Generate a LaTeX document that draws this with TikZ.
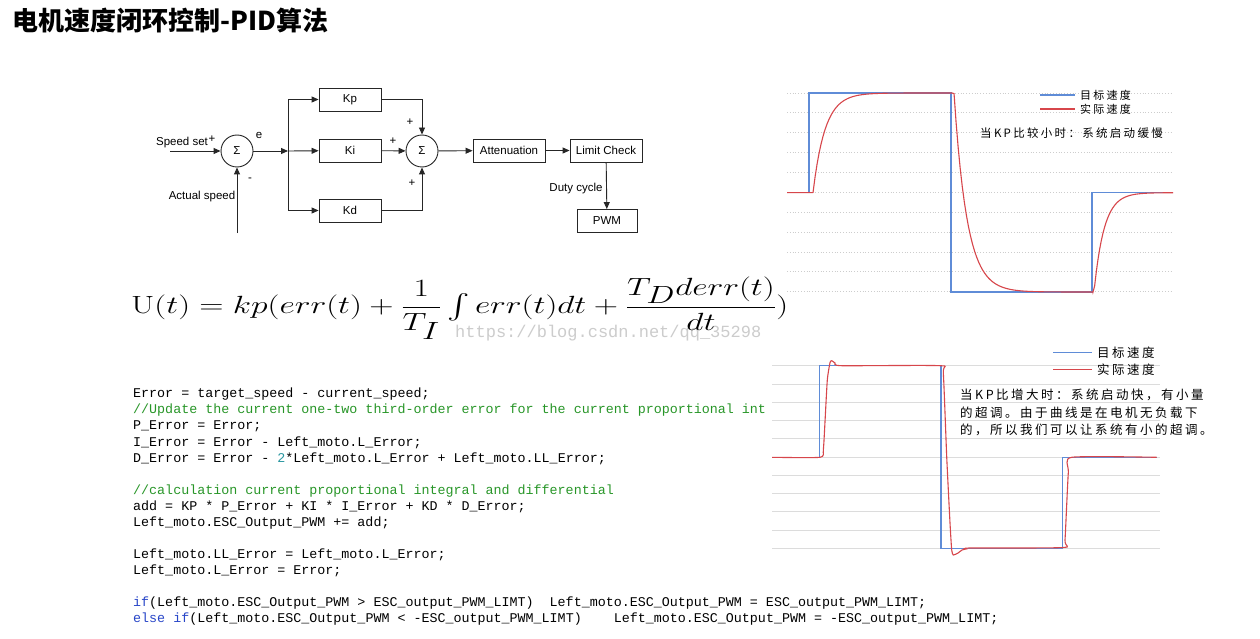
\documentclass[tikz,border=0pt]{standalone}
\usepackage{amsmath}
\usepackage{graphicx}
\usepackage[no-math]{fontspec}
\setmainfont{Liberation Sans}
\setmonofont{Liberation Mono}
\newfontfamily\cjk{Noto Sans CJK SC}
\newfontfamily\cjkls{Noto Sans CJK SC}[LetterSpace=20]
\usetikzlibrary{arrows.meta}
\definecolor{tgtblue}{RGB}{95,140,215}
\definecolor{actred}{RGB}{215,70,75}
\definecolor{gridgray}{RGB}{205,205,205}
\definecolor{cmtgreen}{RGB}{40,150,40}
\definecolor{numcyan}{RGB}{40,150,160}
\definecolor{kwblue}{RGB}{40,70,200}
\tikzset{
  blk/.style={draw=black!85,line width=0.9pt,minimum width=62pt,minimum height=23pt,inner sep=0pt,font=\fontsize{11.5}{13}\selectfont},
  sumc/.style={draw=black!85,line width=0.9pt,circle,minimum size=32pt,inner sep=0pt,font=\fontsize{11.5}{13}\selectfont},
  lbl/.style={inner sep=0pt,font=\fontsize{11.5}{13}\selectfont},
  gridA/.style={gridgray,line width=0.8pt,dotted},
  gridB/.style={gridgray!70,line width=0.6pt},
  tgt/.style={tgtblue,line width=1.1pt},
  act/.style={actred,line width=1.1pt},
  code/.style={inner sep=0pt,align=left,font=\ttfamily\fontsize{13.35}{16.05}\selectfont}
}
\begin{document}
\begin{tikzpicture}[x=1pt,y=-1pt,>={Triangle[length=7pt,width=6pt]}]
\useasboundingbox[fill=white] (0,0) rectangle (1260,639);
% title
\node[anchor=west,inner sep=0pt] (title) at (12,21) {\cjk\bfseries\fontsize{26}{30}\selectfont 电机速度闭环控制-PID算法};

% PID block diagram
\node[sumc] (s1) at (237,151) {Σ};
\node[blk] (kp) at (350,99.5) {Kp};
\node[blk] (ki) at (350,150.5) {Ki};
\node[blk] (kd) at (350,210.5) {Kd};
\node[sumc] (s2) at (422,151) {Σ};
\node[blk,minimum width=72pt] (att) at (509,150.5) {Attenuation};
\node[blk,minimum width=72pt] (lim) at (606,150.5) {Limit Check};
\node[blk,minimum width=60pt] (pwm) at (607,221) {PWM};
\coordinate (in) at (170,151);
\coordinate (fb) at (237,233);
\coordinate (br) at (288,151);
\draw[black!85,line width=0.9pt,->] (in) -- (s1);
\draw[black!85,line width=0.9pt,->] (fb) -- (s1);
\draw[black!85,line width=0.9pt,->] (s1) -- (br);
\draw[black!85,line width=0.9pt,->] (br) -- (ki);
\draw[black!85,line width=0.9pt,->] (br) |- (kp);
\draw[black!85,line width=0.9pt,->] (br) |- (kd);
\draw[black!85,line width=0.9pt,->] (kp) -| (s2);
\draw[black!85,line width=0.9pt,->] (kd) -| (s2);
\draw[black!85,line width=0.9pt,->] (ki) -- (s2);
\draw[black!85,line width=0.9pt,->] (s2) -- (att);
\draw[black!85,line width=0.9pt,->] (att) -- (lim);
\draw[black!85,line width=0.9pt,->] (lim) -- (pwm);
\node[lbl] (setl) at (182,143) {Speed set};
\node[lbl] (setp) at (212,139) {+};
\node[lbl] (el) at (259,135) {e};
\node[lbl] (ml) at (250,180) {-};
\node[lbl] (actl) at (202,197) {Actual speed};
\node[lbl] (p1) at (410,122) {+};
\node[lbl] (p2) at (393,141) {+};
\node[lbl] (p3) at (412,183) {+};
\node[lbl] (duty) at (576,189) {Duty cycle};

% formula with watermark
\node[anchor=west,inner sep=0pt,gray!40,font=\ttfamily\fontsize{17}{20}\selectfont] (mark) at (455,333) {https://blog.csdn.net/qq\_35298};
\node[anchor=west,inner sep=0pt] (eq) at (131,308) {\fontsize{35}{40}\selectfont\scalebox{1.35}[1]{%
  $\mathrm{U}(t) = kp(err(t) + \dfrac{1}{T_I}\int err(t)dt + \dfrac{T_D derr(t)}{dt})$}};

% C code
\node[code,anchor=north west] (src) at (133,388) {%
Error = target\_speed - current\_speed;\\
\textcolor{cmtgreen}{//Update the current one-two third-order error for the current proportional int}\\
P\_Error = Error;\\
I\_Error = Error - Left\_moto.L\_Error;\\
D\_Error = Error - \textcolor{numcyan}{2}*Left\_moto.L\_Error + Left\_moto.LL\_Error;\\[16.05pt]
\textcolor{cmtgreen}{//calculation current proportional integral and differential}\\
add = KP * P\_Error + KI * I\_Error + KD * D\_Error;\\
Left\_moto.ESC\_Output\_PWM += add;\\[16.05pt]
Left\_moto.LL\_Error = Left\_moto.L\_Error;\\
Left\_moto.L\_Error = Error;\\[16.05pt]
\textcolor{kwblue}{if}(Left\_moto.ESC\_Output\_PWM > ESC\_output\_PWM\_LIMT)\ \ Left\_moto.ESC\_Output\_PWM = ESC\_output\_PWM\_LIMT;\\
\textcolor{kwblue}{else if}(Left\_moto.ESC\_Output\_PWM < -ESC\_output\_PWM\_LIMT)\ \ \ \ Left\_moto.ESC\_Output\_PWM = -ESC\_output\_PWM\_LIMT;};

% response with small KP
\foreach \g in {0,...,10}
  \draw[gridA] (787,{93+19.87*\g}) -- (1173,{93+19.87*\g});
\draw[tgt] (787,192.7) -- (809,192.7) -- (809,93) -- (951,93) -- (951,292) -- (1092,292) -- (1092,192.7) -- (1173,192.7);
\draw[act] (787,192.7) -- (813,192.7)
  plot[domain=813:952,samples=70] (\x,{93+99.7*exp(-(\x-813)/12)})
  -- plot[domain=952:1093,samples=70] (\x,{93+199*(1-exp(-max(\x-954,0)/13))})
  -- plot[domain=1093:1173,samples=50] (\x,{292-99.3*(1-exp(-max(\x-1094,0)/10))});
\draw[tgt] (1040,95) -- (1075,95);
\draw[act] (1040,109) -- (1075,109);
\node[anchor=west,inner sep=0pt,font=\cjkls\fontsize{11}{13}\selectfont] (lgA1) at (1080,95) {目标速度};
\node[anchor=west,inner sep=0pt,font=\cjkls\fontsize{11}{13}\selectfont] (lgA2) at (1080,109) {实际速度};
\node[anchor=west,inner sep=0pt,font=\cjkls\fontsize{11.5}{13}\selectfont] (noteA) at (980,133) {当KP比较小时：系统启动缓慢};

% response with larger KP
\foreach \g in {0,...,10}
  \draw[gridB] (772,{365.7+18.26*\g}) -- (1160,{365.7+18.26*\g});
\draw[tgt] (772,457.3) -- (819.3,457.3) -- (819.3,365.7) -- (941,365.7) -- (941,548.3) -- (1062.3,548.3) -- (1062.3,457.3) -- (1156.7,457.3);
\draw[act] plot[smooth,tension=0.35] coordinates {(772,457.3) (820,457.3) (823.3,450) (825,421.7) (827.3,380) (830,362.7) (831.7,360.7) (835,363) (841.7,365.7) (940,365.7) (943.3,373) (946.7,456.7) (950,523) (951.7,550) (953.3,555) (958,553) (962,550) (966,549) (970,548) (1063,547.5) (1065,540) (1068.3,473) (1071.7,457.3) (1156.7,457.3)};
\draw[tgt] (1053,352.7) -- (1092,352.7);
\draw[act,line width=1.6pt] (1053,369.3) -- (1092,369.3);
\node[anchor=west,inner sep=0pt,font=\cjkls\fontsize{12.5}{14}\selectfont] (lgB1) at (1097,352.7) {目标速度};
\node[anchor=west,inner sep=0pt,font=\cjkls\fontsize{12.5}{14}\selectfont] (lgB2) at (1097,369.3) {实际速度};
\node[anchor=north west,inner sep=0pt,align=left,font=\cjkls\fontsize{12.5}{17.5}\selectfont] (noteB) at (960,389) {当KP比增大时：系统启动快，有小量\\的超调。由于曲线是在电机无负载下\\的，所以我们可以让系统有小的超调。};
\end{tikzpicture}
\end{document}
